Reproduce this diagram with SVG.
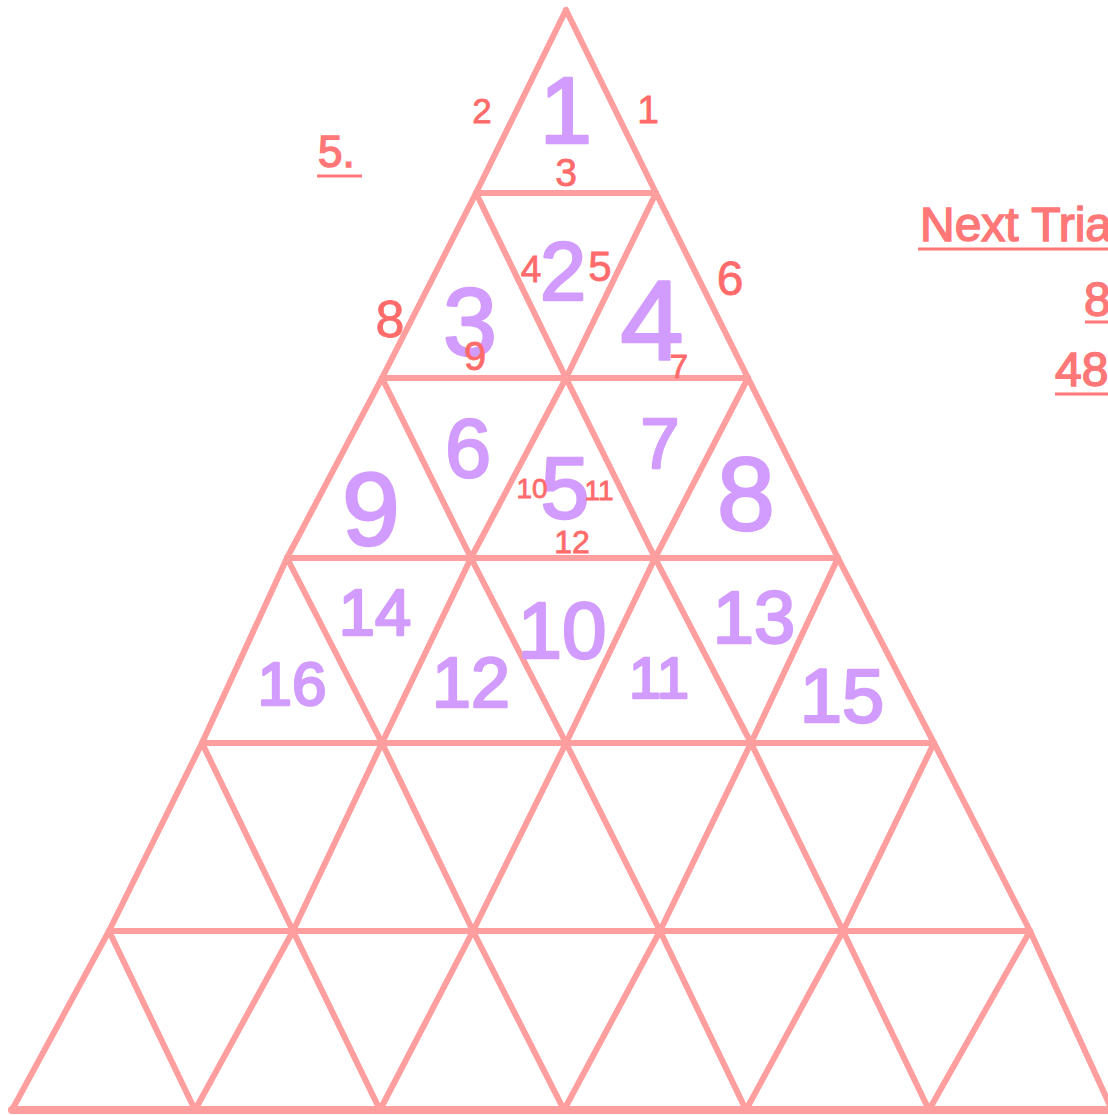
<svg xmlns="http://www.w3.org/2000/svg" width="1108" height="1115" viewBox="0 0 1108 1115">
<style>
.ln{fill:none;stroke:#FF9E9E;stroke-width:6;stroke-linejoin:round;stroke-linecap:round}
.p{fill:#D29CFF;stroke:#D29CFF;stroke-width:2.5;stroke-linejoin:round;font-family:"Liberation Sans",Arial,sans-serif;text-anchor:middle}
.r{fill:#FF6B6B;stroke:#FF6B6B;stroke-width:0.8;font-family:"Liberation Sans",Arial,sans-serif;text-anchor:middle}
.h{fill:#FF7777;stroke:#FF7777;stroke-width:1.5;font-family:"Liberation Sans",Arial,sans-serif}
.u{stroke:#FF7777;stroke-width:3}
</style>
<rect width="1108" height="1115" fill="#FFFFFF"/>
<g id="connectors">
<polyline class="ln" points="566,10 476,193 382,378 287,558 202,743 109,931 12,1110"/>
<polyline class="ln" points="566,10 656,193 748,378 838,558 934,743 1030,931 1112,1110"/>
<line class="ln" x1="476" y1="193" x2="656" y2="193"/>
<line class="ln" x1="382" y1="378" x2="748" y2="378"/>
<line class="ln" x1="287" y1="558" x2="838" y2="558"/>
<line class="ln" x1="202" y1="743" x2="934" y2="743"/>
<line class="ln" x1="109" y1="931" x2="1030" y2="931"/>
<line class="ln" x1="12" y1="1110" x2="1112" y2="1110" style="stroke-width:8"/>
<polyline class="ln" points="476,193 566,378 655,558 751,743 843,931 929,1110"/>
<polyline class="ln" points="382,378 471,558 566,743 660,931 746,1110"/>
<polyline class="ln" points="287,558 382,743 473,931 564,1110"/>
<polyline class="ln" points="202,743 293,931 380,1110"/>
<polyline class="ln" points="109,931 195,1110"/>
<polyline class="ln" points="656,193 566,378 471,558 382,743 293,931 195,1110"/>
<polyline class="ln" points="748,378 655,558 566,743 473,931 380,1110"/>
<polyline class="ln" points="838,558 751,743 660,931 564,1110"/>
<polyline class="ln" points="934,743 843,931 746,1110"/>
<polyline class="ln" points="1030,931 929,1110"/>
</g>
<g id="headers">
<text class="h" x="318" y="167" font-size="44">5.</text>
<line class="u" x1="317" y1="176" x2="362" y2="176"/>
<text class="h" x="920" y="241" font-size="48">Next Triangles</text>
<line class="u" x1="918" y1="249" x2="1108" y2="249"/>
<text class="h" x="1084" y="316" font-size="48">8</text>
<line class="u" x1="1085" y1="322" x2="1108" y2="322"/>
<text class="h" x="1055" y="386" font-size="48">48</text>
<line class="u" x1="1055" y1="394" x2="1108" y2="394"/>
</g>
<g id="triangle-numbers">
<text class="p" x="566" y="143" font-size="94">1</text>
<text class="p" x="563" y="300" font-size="83">2</text>
<text class="p" x="470" y="355" font-size="97">3</text>
<text class="p" x="652" y="360" font-size="114">4</text>
<text class="p" x="468" y="477" font-size="83">6</text>
<text class="p" x="565" y="518" font-size="88">5</text>
<text class="p" x="660" y="468" font-size="70">7</text>
<text class="p" x="371" y="545" font-size="104">9</text>
<text class="p" x="746" y="530" font-size="104">8</text>
<text class="p" x="375" y="635" font-size="65">14</text>
<text class="p" x="562" y="658" font-size="80">10</text>
<text class="p" x="754" y="643" font-size="74">13</text>
<text class="p" x="292" y="705" font-size="62">16</text>
<text class="p" x="471" y="707" font-size="70">12</text>
<text class="p" x="659" y="698" font-size="58">11</text>
<text class="p" x="842" y="722" font-size="76">15</text>
</g>
<g id="edge-numbers">
<text class="r" x="648" y="123" font-size="39">1</text>
<text class="r" x="482" y="123" font-size="35">2</text>
<text class="r" x="566" y="186" font-size="39">3</text>
<text class="r" x="531" y="282" font-size="37">4</text>
<text class="r" x="600" y="281" font-size="42">5</text>
<text class="r" x="730" y="295" font-size="48">6</text>
<text class="r" x="390" y="337" font-size="52">8</text>
<text class="r" x="475" y="370" font-size="40">9</text>
<text class="r" x="679" y="378" font-size="33">7</text>
<text class="r" x="532" y="498" font-size="28">10</text>
<text class="r" x="599" y="500" font-size="28">11</text>
<text class="r" x="572" y="553" font-size="32">12</text>
</g>
</svg>
